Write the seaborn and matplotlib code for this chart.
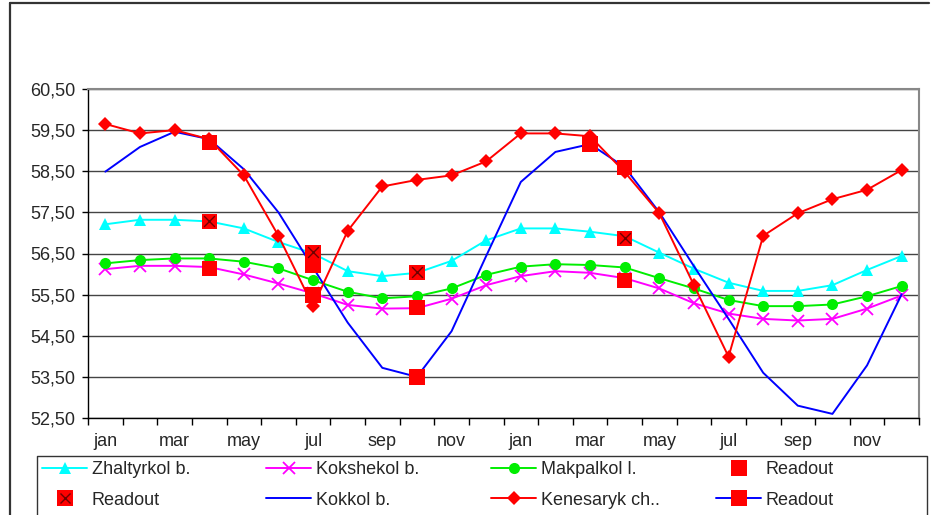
import numpy as np
import pandas as pd
import matplotlib
matplotlib.use("Agg")
import matplotlib.pyplot as plt
import seaborn as sns
from matplotlib.lines import Line2D
from matplotlib.legend_handler import HandlerTuple

months = ["jan", "feb", "mar", "apr", "may", "jun", "jul", "aug", "sep", "oct", "nov", "dec"] * 2
tick_labels = ["jan", "mar", "may", "jul", "sep", "nov"] * 2
y_ticks = [52.5, 53.5, 54.5, 55.5, 56.5, 57.5, 58.5, 59.5, 60.5]

zhaltyrkol = [57.21, 57.32, 57.32, 57.28, 57.11, 56.78, 56.50, 56.07, 55.95, 56.03, 56.32, 56.82,
              57.11, 57.11, 57.03, 56.92, 56.52, 56.13, 55.79, 55.59, 55.59, 55.73, 56.10, 56.44]
kokshekol = [56.12, 56.20, 56.20, 56.17, 55.99, 55.77, 55.53, 55.25, 55.16, 55.17, 55.40, 55.73,
             55.95, 56.07, 56.03, 55.90, 55.65, 55.29, 55.04, 54.91, 54.87, 54.91, 55.16, 55.48]
makpalkol = [56.26, 56.34, 56.38, 56.38, 56.30, 56.14, 55.85, 55.57, 55.41, 55.46, 55.65, 55.98,
             56.18, 56.24, 56.22, 56.16, 55.90, 55.65, 55.37, 55.22, 55.22, 55.26, 55.46, 55.71]
kokkol = [58.49, 59.09, 59.46, 59.28, 58.55, 57.50, 56.16, 54.82, 53.72, 53.50, 54.61, 56.44,
          58.24, 58.97, 59.16, 58.60, 57.50, 56.19, 54.91, 53.60, 52.80, 52.60, 53.78, 55.51]
kenesaryk = [59.65, 59.42, 59.50, 59.28, 58.40, 56.93, 55.22, 57.05, 58.13, 58.29, 58.40, 58.74,
             59.42, 59.42, 59.35, 58.48, 57.48, 55.73, 53.99, 56.93, 57.48, 57.82, 58.05, 58.53]

readout_plain_idx = [3, 6, 9, 15]
readout_plain = [56.14, 55.49, 55.18, 55.85]
readout_x_idx = [3, 6, 9, 15]
readout_x = [57.28, 56.53, 56.04, 56.87]
readout_blue_idx = [3, 6, 9, 14, 15]
readout_blue = [59.20, 56.20, 53.50, 59.16, 58.59]

sns.set_style("white")
plt.rcParams["font.family"] = ["Liberation Sans", "DejaVu Sans"]
FS = 13

W, H = 932, 515
fig = plt.figure(figsize=(W / 100, H / 100), dpi=100)
ax = fig.add_axes([88 / W, 1 - 418 / H, (919 - 88) / W, (418 - 89) / H])

x = np.arange(len(months))
df = pd.DataFrame({"x": x, "Zhaltyrkol b.": zhaltyrkol, "Kokshekol b.": kokshekol,
                   "Makpalkol l.": makpalkol, "Kokkol b.": kokkol, "Kenesaryk ch..": kenesaryk})

for yv in y_ticks:
    ax.axhline(yv, color="#444444", lw=1.0, zorder=1)

lw = 1.4
C_CY, C_MA, C_GR, C_BL, C_RD = "#00FFFF", "#FF00FF", "#00EE00", "#0000FF", "#FF0000"
MS_TRI, MS_X, MS_O, MS_D = 9, 8, 8, 7
sns.lineplot(data=df, x="x", y="Zhaltyrkol b.", ax=ax, color=C_CY, lw=lw, marker="^",
             markersize=MS_TRI, markeredgewidth=0, zorder=3)
sns.lineplot(data=df, x="x", y="Kokshekol b.", ax=ax, color=C_MA, lw=lw, marker="x",
             markersize=MS_X, markeredgewidth=1.3, markeredgecolor=C_MA, zorder=3)
sns.lineplot(data=df, x="x", y="Makpalkol l.", ax=ax, color=C_GR, lw=lw, marker="o",
             markersize=MS_O, markeredgewidth=0, zorder=3)
sns.lineplot(data=df, x="x", y="Kokkol b.", ax=ax, color=C_BL, lw=lw, zorder=3)
sns.lineplot(data=df, x="x", y="Kenesaryk ch..", ax=ax, color=C_RD, lw=lw, marker="D",
             markersize=MS_D, markeredgewidth=0, zorder=3)

sq = 11
sns.scatterplot(x=readout_plain_idx, y=readout_plain, ax=ax, marker="s", s=sq ** 2, color=C_RD,
                edgecolor="none", linewidth=0, zorder=5)
sns.scatterplot(x=readout_x_idx, y=readout_x, ax=ax, marker="s", s=sq ** 2, color=C_RD,
                edgecolor="none", linewidth=0, zorder=5)
sns.scatterplot(x=readout_x_idx, y=readout_x, ax=ax, marker="x", s=60, color="#700000",
                linewidth=1.0, zorder=6)
sns.scatterplot(x=readout_blue_idx, y=readout_blue, ax=ax, marker="s", s=sq ** 2, color=C_RD,
                edgecolor="none", linewidth=0, zorder=5)

ax.set_xlim(-0.5, len(months) - 0.5)
ax.set_ylim(52.5, 60.5)
ax.set_xticks(np.arange(0, len(months), 2))
ax.set_xticklabels(tick_labels)
ax.set_xticks(np.arange(-0.5, len(months), 1), minor=True)
ax.tick_params(axis="x", which="major", length=0, pad=11, labelsize=FS)
ax.tick_params(axis="x", which="minor", length=5, width=1, color="black", direction="out", bottom=True)
ax.set_yticks(y_ticks)
ax.set_yticklabels([f"{v:.2f}".replace(".", ",") for v in y_ticks])
ax.tick_params(axis="y", length=4, width=1, color="black", direction="out", left=True, pad=5, labelsize=FS)
ax.set_xlabel("")
ax.set_ylabel("")
for s in ["left", "bottom"]:
    ax.spines[s].set_color("black")
    ax.spines[s].set_linewidth(1.0)
for s in ["top", "right"]:
    ax.spines[s].set_color("#888888")
    ax.spines[s].set_linewidth(1.5)
    ax.spines[s].set_visible(True)
ax.set_zorder(2)

# figure outer border (left and top visible)
fig.add_artist(Line2D([10 / W, 10 / W], [-0.1, 1 - 3 / H], transform=fig.transFigure, color="#333333", lw=1.6))
fig.add_artist(Line2D([10 / W, 929 / W], [1 - 3 / H, 1 - 3 / H], transform=fig.transFigure, color="#333333", lw=1.6))
# legend box
lt = 1 - 456 / H
fig.add_artist(Line2D([37 / W, 37 / W, 927 / W, 927 / W], [-0.1, lt, lt, -0.1], transform=fig.transFigure,
                      color="#333333", lw=1.0))

h_zh = Line2D([], [], color=C_CY, lw=lw, marker="^", markersize=MS_TRI, markeredgewidth=0)
h_ko = Line2D([], [], color=C_MA, lw=lw, marker="x", markersize=MS_X, markeredgewidth=1.3)
h_ma = Line2D([], [], color=C_GR, lw=lw, marker="o", markersize=MS_O, markeredgewidth=0)
h_r1 = Line2D([], [], color=C_RD, lw=0, marker="s", markersize=sq, markeredgewidth=0)
h_r2 = (Line2D([], [], color=C_RD, lw=0, marker="s", markersize=sq, markeredgewidth=0),
        Line2D([], [], color="#700000", lw=0, marker="x", markersize=7, markeredgewidth=1.0))
h_kk = Line2D([], [], color=C_BL, lw=lw)
h_ke = Line2D([], [], color=C_RD, lw=lw, marker="D", markersize=MS_D, markeredgewidth=0)
h_r3 = Line2D([], [], color=C_BL, lw=lw, marker="s", markersize=sq, markerfacecolor=C_RD,
              markeredgewidth=0)

columns = [
    ([h_zh, h_r2], ["Zhaltyrkol b.", "Readout"], 42),
    ([h_ko, h_kk], ["Kokshekol b.", "Kokkol b."], 266),
    ([h_ma, h_ke], ["Makpalkol l.", "Kenesaryk ch.."], 491),
    ([h_r1, h_r3], ["Readout", "Readout"], 716),
]
for hs, ls, x0 in columns:
    fig.legend(hs, ls, ncol=1, loc="upper left", bbox_to_anchor=(x0 / W, 1 - 461 / H),
               frameon=False, handlelength=2.5, handletextpad=0.25, labelspacing=0.75,
               fontsize=FS, borderaxespad=0, borderpad=0,
               handler_map={tuple: HandlerTuple(ndivide=1, pad=0)})

fig.savefig("out.png", dpi=100)
